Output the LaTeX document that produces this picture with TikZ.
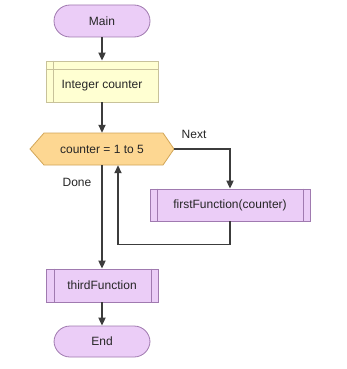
\documentclass[tikz,border=0pt]{standalone}
\usepackage{fontspec}
\setmainfont{Liberation Sans}
\usetikzlibrary{arrows.meta}
\definecolor{termfill}{HTML}{EBCDF7}
\definecolor{termborder}{HTML}{A07AB0}
\definecolor{declfill}{HTML}{FFFFD2}
\definecolor{declborder}{HTML}{C8C29A}
\definecolor{loopfill}{HTML}{FDD792}
\definecolor{loopborder}{HTML}{D2A658}
\definecolor{procfill}{HTML}{EBCDF7}
\definecolor{procborder}{HTML}{A07AB0}
\definecolor{linecol}{HTML}{3C3C3C}
\begin{document}
\begin{tikzpicture}[x=1pt,y=-1pt,
  txt/.style={font=\fontsize{12}{14}\selectfont, text=black!85},
  term/.style={txt, draw=termborder, fill=termfill, rounded corners=16pt, minimum width=96pt, minimum height=32pt, inner sep=0pt, line width=0.8pt},
  decl/.style={txt, draw=declborder, fill=declfill, minimum width=112pt, minimum height=41pt, inner sep=0pt, line width=0.8pt},
  proc/.style={txt, draw=procborder, fill=procfill, minimum height=32pt, inner sep=0pt, line width=0.8pt},
  hexbox/.style={txt, minimum width=144pt, minimum height=32pt, inner sep=0pt},
  inner/.style={line width=0.6pt},
  arr/.style={draw=linecol, line width=1.8pt, -{Triangle[length=8pt,width=7pt]}},
  lab/.style={txt}
]
\useasboundingbox (0,0) rectangle (347,369);
\fill[white] (0,0) rectangle (347,369);

\node[term] (main) at (102,21) {Main};

\node[decl] (counter) at (102,81.5) {};
\draw[declborder, inner] ([xshift=8pt]counter.north west) -- ([xshift=8pt]counter.south west);
\draw[declborder, inner] ([yshift=-9pt]counter.north west) -- ([yshift=-9pt]counter.north east);
\node[txt] (countertext) at (102,86) {Integer counter};

\draw[draw=loopborder, fill=loopfill, line width=0.8pt] (30,149) -- (44,133) -- (163,133) -- (174,149) -- (163,165) -- (44,165) -- cycle;
\node[hexbox] (loop) at (102,149) {counter = 1 to 5};

\node[proc, minimum width=160pt] (first) at (230,205) {firstFunction(counter)};
\draw[procborder, inner] ([xshift=8pt]first.north west) -- ([xshift=8pt]first.south west);
\draw[procborder, inner] ([xshift=-7pt]first.north east) -- ([xshift=-7pt]first.south east);

\node[proc, minimum width=112pt, minimum height=33pt] (third) at (102,285.5) {thirdFunction};
\draw[procborder, inner] ([xshift=9pt]third.north west) -- ([xshift=9pt]third.south west);
\draw[procborder, inner] ([xshift=-7pt]third.north east) -- ([xshift=-7pt]third.south east);

\node[term, minimum height=31pt] (end) at (102,341.5) {End};

\node[lab] (next) at (194,134) {Next};
\node[lab] (done) at (77,182) {Done};

\coordinate (lb) at (118,244.5);

\draw[arr] (main) -- (counter);
\draw[arr] (counter) -- (loop.north);
\draw[arr] (loop.east) -| (first.north);
\draw[arr] (first.south) |- (lb) -- ([xshift=16pt]loop.south);
\draw[arr] (loop.south) -- (third.north);
\draw[arr] (third) -- (end);
\end{tikzpicture}
\end{document}
